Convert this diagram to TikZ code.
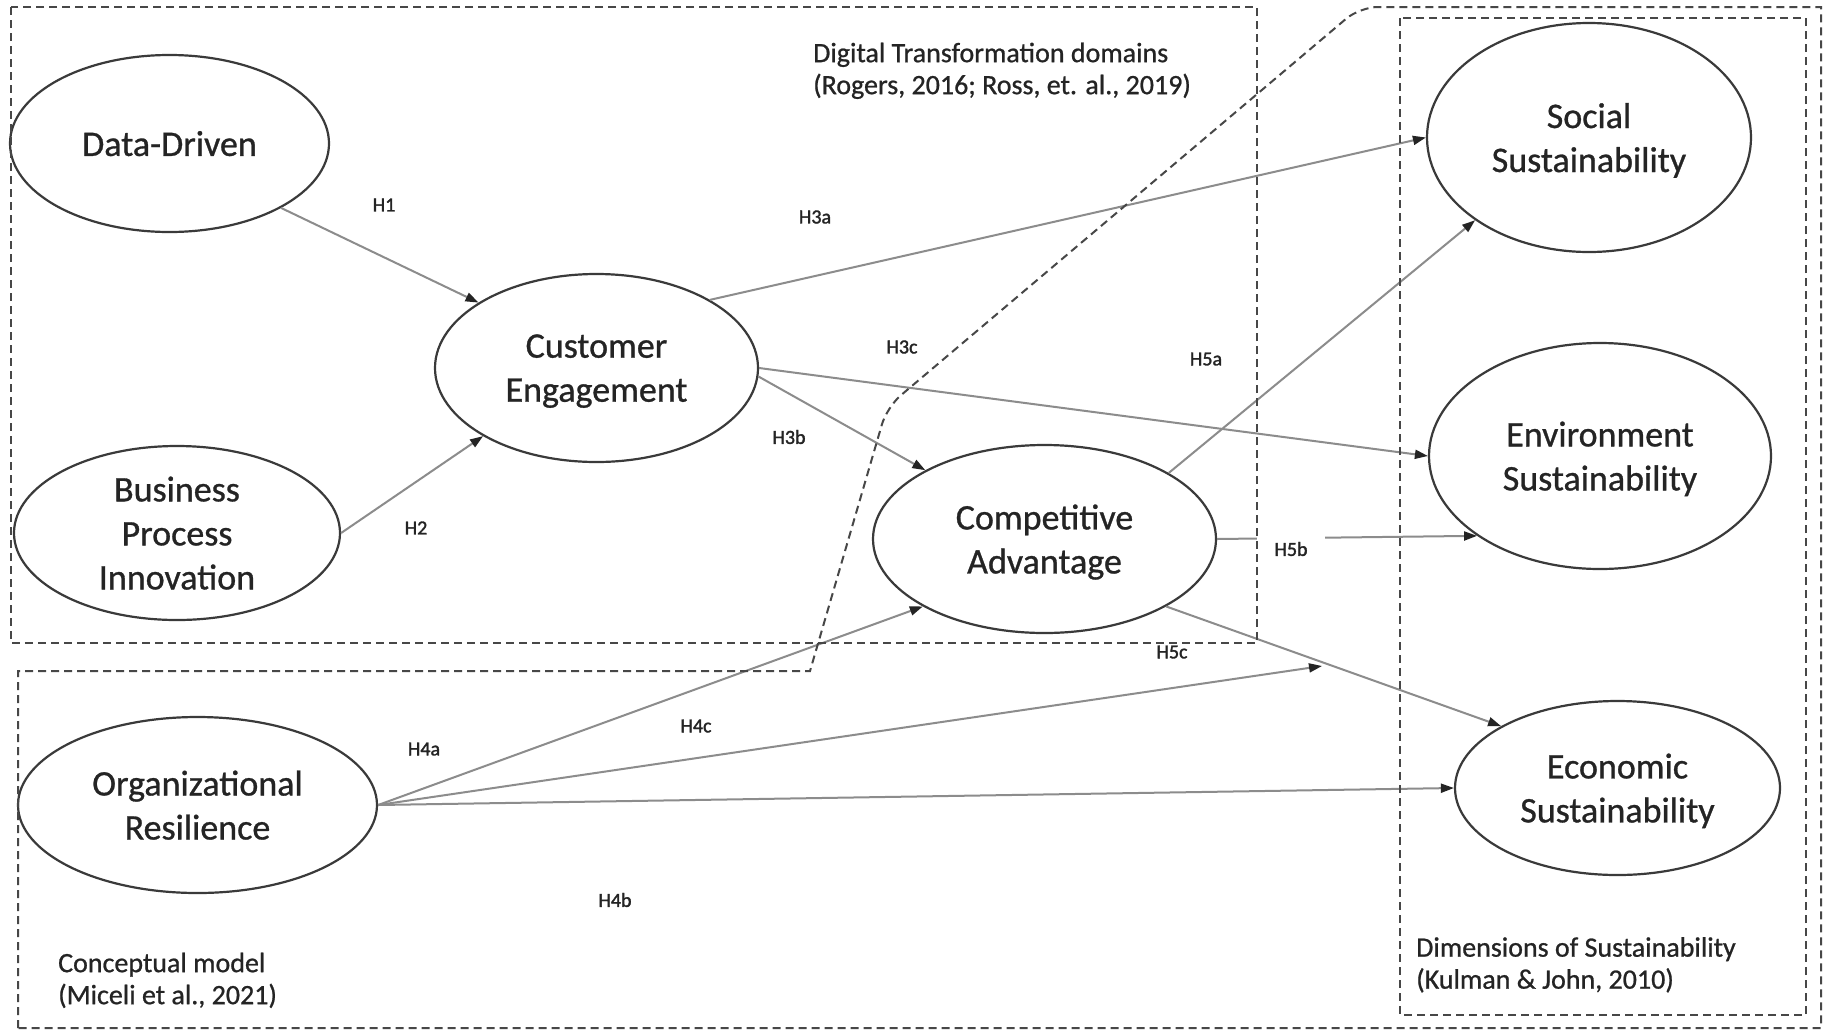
\documentclass[tikz,border=0pt]{standalone}
\usepackage{fontspec}
\setmainfont{Carlito}[FakeBold=0.8]
\newfontfamily\hypfont{Carlito}[FakeBold=1.6]
\usetikzlibrary{arrows.meta,shapes.geometric}
\definecolor{ink}{HTML}{242424}
\definecolor{rim}{HTML}{3A3A3A}
\definecolor{wire}{HTML}{8C8C8C}
\definecolor{frame}{HTML}{474747}
\tikzset{
  construct/.style={ellipse, draw=rim, line width=2.2pt, inner sep=0pt,
    align=center, text=ink, text depth=0pt, font=\fontsize{36}{44}\selectfont},
  link/.style={draw=wire, line width=2pt,
    -{Triangle[length=13pt,width=9pt,color=ink]}},
  hyp/.style={font=\hypfont\fontsize{20}{24}\selectfont, text=ink, inner sep=1pt},
  caption/.style={font=\fontsize{28}{32}\selectfont, align=left, text=ink,
    inner sep=0pt, anchor=north west},
  region/.style={draw=frame, line width=1.7pt, dash pattern=on 8pt off 5pt},
  boundary/.style={draw=frame, line width=2pt, dash pattern=on 8pt off 5pt}
}
\begin{document}
\begin{tikzpicture}[x=1pt,y=-1pt]
\fill[white] (0,0) rectangle (1825,1031);
\useasboundingbox (0,0) rectangle (1825,1031);

% constructs
\node[construct, minimum width=319pt, minimum height=177pt] (dd)  at (169.5,143.5) {Data-Driven};
\node[construct, minimum width=326pt, minimum height=174pt] (bpi) at (177,533) {Business\\Process\\Innovation};
\node[construct, minimum width=323pt, minimum height=188pt] (ce)  at (596.5,368) {Customer\\Engagement};
\node[construct, minimum width=343pt, minimum height=188pt] (ca)  at (1044.5,539) {Competitive\\Advantage};
\node[construct, minimum width=359pt, minimum height=176pt] (or)  at (197.5,805) {Organizational\\Resilience};
\node[construct, minimum width=324pt, minimum height=229pt] (soc) at (1589,137.5) {Social\\Sustainability};
\node[construct, minimum width=342pt, minimum height=226pt] (env) at (1600,456) {Environment\\Sustainability};
\node[construct, minimum width=325pt, minimum height=174pt] (eco) at (1617.5,788) {Economic\\Sustainability};

% hypothesised paths
\draw[link] (dd.-30) -- (ce.151);
\draw[link] (bpi.east) -- (ce.211);
\draw[link] (ce.31) -- (soc.west);
\draw[link] (ce.east) -- (env.west);
\draw[link] (ce.-3) -- (ca.150);
\draw[link] (ca.28) -- (soc.216);
\draw[link] (ca.east) -- (env.213);
\draw[link] (ca.-29) -- (eco.152);
\draw[link] (or.east) -- (ca.209);
\coordinate (h4cend) at (1322,666);
\draw[link] (or.east) -- (h4cend);
\draw[link] (or.east) -- (eco.west);

% hypothesis labels
\node[hyp] (lh1)  at (384,205) {H1};
\node[hyp] (lh2)  at (416,528) {H2};
\node[hyp] (lh3a) at (815,217) {H3a};
\node[hyp] (lh3c) at (902,347) {H3c};
\node[hyp] (lh3b) at (789,437) {H3b};
\node[hyp] (lh5a) at (1206,359) {H5a};
\node[hyp, fill=white, inner xsep=17pt, inner ysep=9pt] (lh5b) at (1291,549) {H5b};
\node[hyp] (lh5c) at (1172,652) {H5c};
\node[hyp] (lh4a) at (424,749) {H4a};
\node[hyp] (lh4c) at (696,726) {H4c};
\node[hyp] (lh4b) at (615,900) {H4b};

% framing regions
\draw[region] (11,7) rectangle (1257,643);
\draw[region] (1400,18) rectangle (1806,1015);
\draw[boundary] (18,1028) -- (18,671) -- (810,671)
  [rounded corners=18pt] -- (887,407) -- (1360,7)
  [sharp corners] -- (1821,7) -- (1821,1028) -- cycle;

% region captions
\node[caption] (dttitle)  at (813,42.5) {Digital Transformation domains\\(Rogers, 2016; Ross, et. al., 2019)};
\node[caption] (cmtitle)  at (58,952.5) {Conceptual model\\(Miceli et al., 2021)};
\node[caption] (dimtitle) at (1416,937) {Dimensions of Sustainability\\(Kulman \& John, 2010)};
\end{tikzpicture}
\end{document}
